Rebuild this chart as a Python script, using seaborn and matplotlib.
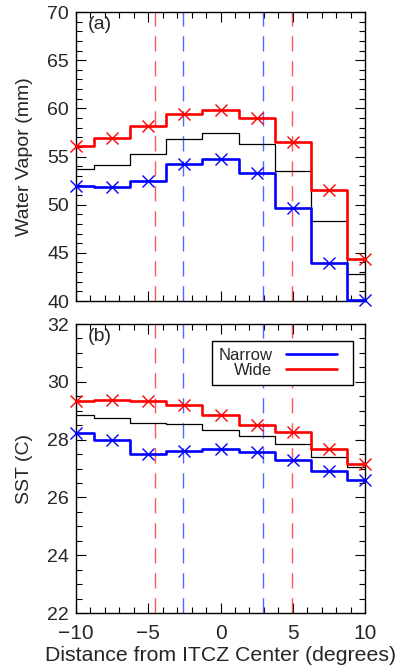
import numpy as np
import pandas as pd
import matplotlib
matplotlib.use("Agg")
import matplotlib.pyplot as plt
from matplotlib.lines import Line2D
from matplotlib.legend_handler import HandlerLine2D
from matplotlib.ticker import MultipleLocator
import seaborn as sns

# ---- data ----
dist = [-10, -7.5, -5, -2.5, 0, 2.5, 5, 7.5, 10]

wv_wide = [56.1, 56.9, 58.2, 59.4, 59.85, 59.0, 56.5, 51.5, 44.4]
wv_all = [53.7, 54.1, 55.25, 56.8, 57.4, 56.3, 53.5, 48.3, 42.8]
wv_narrow = [51.9, 51.8, 52.45, 54.25, 54.7, 53.25, 49.7, 43.9, 40.1]

sst_wide = [29.33, 29.38, 29.33, 29.19, 28.84, 28.52, 28.26, 27.66, 27.14]
sst_all = [28.84, 28.74, 28.59, 28.54, 28.32, 28.11, 27.84, 27.39, 27.04]
sst_narrow = [28.24, 27.98, 27.51, 27.6, 27.69, 27.58, 27.28, 26.93, 26.62]

narrow_bounds = [-2.6, 2.95]
wide_bounds = [-4.5, 4.95]

legend_labels = ["Narrow", "Wide"]
panel_labels = ["(a)", "(b)"]

sns.set_style("white")
plt.rcParams["font.family"] = ["Liberation Sans", "DejaVu Sans"]

RED = "#ff0000"
BLUE = "#0000ff"

fig = plt.figure(figsize=(4.0, 6.68), dpi=100)
ax1 = fig.add_axes([0.19, 0.5494, 0.7225, 0.4326])
ax2 = fig.add_axes([0.19, 0.0823, 0.7225, 0.4326])


def draw(ax, wide, allv, narrow):
    df = pd.DataFrame({"x": dist, "wide": wide, "all": allv, "narrow": narrow})
    for xb in wide_bounds:
        ax.axvline(xb, color="#ff5555", lw=1.0, dashes=(11, 7), zorder=1)
    for xb in narrow_bounds:
        ax.axvline(xb, color="#5566ff", lw=1.0, dashes=(11, 7), zorder=1)
    sns.lineplot(data=df, x="x", y="all", ax=ax, color="black", lw=0.9,
                 drawstyle="steps-mid", zorder=2)
    sns.lineplot(data=df, x="x", y="narrow", ax=ax, color=BLUE, lw=1.9,
                 drawstyle="steps-mid", marker="x", markersize=9,
                 markeredgewidth=1.0, markeredgecolor=BLUE, clip_on=False, zorder=3)
    sns.lineplot(data=df, x="x", y="wide", ax=ax, color=RED, lw=1.9,
                 drawstyle="steps-mid", marker="x", markersize=9,
                 markeredgewidth=1.0, markeredgecolor=RED, clip_on=False, zorder=3)
    ax.set_xlim(-10, 10)
    ax.xaxis.set_major_locator(MultipleLocator(5))
    ax.xaxis.set_minor_locator(MultipleLocator(1))
    ax.tick_params(which="both", direction="in", top=True, right=True,
                   bottom=True, left=True, color="black", labelsize=14, width=0.8)
    ax.tick_params(which="major", length=7)
    ax.tick_params(which="minor", length=4)
    ax.tick_params(axis="y", pad=5)
    ax.tick_params(axis="x", pad=8, labelsize=15)
    for s in ax.spines.values():
        s.set_color("black")
        s.set_linewidth(1.0)
    ax.set_xlabel("")
    ax.set_ylabel("")


draw(ax1, wv_wide, wv_all, wv_narrow)
ax1.set_ylim(40, 70)
ax1.yaxis.set_major_locator(MultipleLocator(5))
ax1.yaxis.set_minor_locator(MultipleLocator(1))
ax1.tick_params(axis="x", labelbottom=False)
ax1.set_ylabel("Water Vapor (mm)", fontsize=14)
ax1.yaxis.set_label_coords(-0.15, 0.5)
ax1.text(0.04, 0.985, panel_labels[0], transform=ax1.transAxes, fontsize=14,
         va="top", ha="left")

draw(ax2, sst_wide, sst_all, sst_narrow)
ax2.set_ylim(22, 32)
ax2.yaxis.set_major_locator(MultipleLocator(2))
ax2.yaxis.set_minor_locator(MultipleLocator(0.5))
ax2.set_ylabel("SST (C)", fontsize=14)
ax2.yaxis.set_label_coords(-0.15, 0.5)
ax2.set_xlabel("Distance from ITCZ Center (degrees)", fontsize=15.3, labelpad=2)
ax2.text(0.04, 0.985, panel_labels[1], transform=ax2.transAxes, fontsize=14,
         va="top", ha="left")
ax2.set_xticks([-10, -5, 0, 5, 10])
ax2.set_xticklabels(["\u221210", "\u22125", "0", "5", "10"])


class ShortLine(HandlerLine2D):
    def create_artists(self, legend, orig_handle, xdescent, ydescent, width,
                       height, fontsize, trans):
        return super().create_artists(legend, orig_handle, xdescent, ydescent,
                                      width * 0.85, height, fontsize, trans)


handles = [Line2D([], [], color=BLUE, lw=1.9), Line2D([], [], color=RED, lw=1.9)]
leg = ax2.legend(handles, legend_labels, loc="upper right",
                 bbox_to_anchor=(0.958, 0.941), borderaxespad=0, frameon=True,
                 fancybox=False, markerfirst=False, fontsize=12,
                 handlelength=3.6, handletextpad=0.8, labelspacing=0.0,
                 borderpad=0.42, edgecolor="black", framealpha=1,
                 handler_map={Line2D: ShortLine()})
leg.get_frame().set_linewidth(1.0)

fig.savefig("out.png", dpi=100)
